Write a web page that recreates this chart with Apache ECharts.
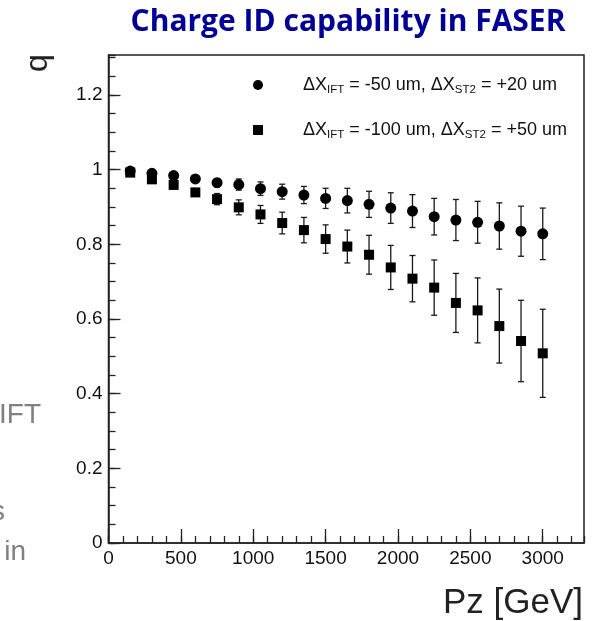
<!DOCTYPE html>
<html>
<head>
<meta charset="utf-8">
<script src="https://cdn.jsdelivr.net/npm/echarts@6/dist/echarts.min.js"></script>
<style>
html,body{margin:0;padding:0;background:#fff;}
#chart{width:594px;height:621px;}
</style>
</head>
<body>
<div id="chart"></div>
<script>
// ---- data ----
const pz = [150,300,450,600,750,900,1050,1200,1350,1500,1650,1800,1950,2100,2250,2400,2550,2700,2850,3000];
const qSet1 = [0.996,0.990,0.984,0.975,0.965,0.960,0.949,0.941,0.932,0.923,0.917,0.907,0.897,0.889,0.874,0.865,0.859,0.849,0.835,0.828];
const errSet1 = [0.003,0.005,0.007,0.009,0.011,0.015,0.018,0.020,0.023,0.027,0.033,0.035,0.041,0.044,0.049,0.055,0.056,0.062,0.067,0.069];
const qSet2 = [0.992,0.974,0.959,0.939,0.921,0.899,0.880,0.857,0.838,0.814,0.794,0.772,0.738,0.708,0.684,0.643,0.623,0.581,0.541,0.508];
const errSet2 = [0.003,0.005,0.006,0.008,0.015,0.020,0.024,0.029,0.034,0.038,0.044,0.052,0.059,0.062,0.074,0.079,0.087,0.099,0.109,0.118];
const seriesNames = ['set1','set2'];
const legendLabels = [
  '{gap|}{n|ΔX}{s|IFT}{n| = -50 um, ΔX}{s|ST2}{n| = +20 um}',
  '{gap|}{n|ΔX}{s|IFT}{n| = -100 um, ΔX}{s|ST2}{n| = +50 um}'
];
const titleText = 'Charge ID capability in FASER';
const xTitle = 'Pz [GeV]';
const yTitle = 'q';

const X_MAX = 3285, Y_MAX = 1.307;

function toPts(q, e){ return pz.map((x,i)=>[x, q[i], e[i]]); }

function errRender(params, api){
  const x = api.value(0), y = api.value(1), e = api.value(2);
  const top = api.coord([x, y + e]);
  const bot = api.coord([x, y - e]);
  const cap = 3;
  const st = {stroke:'#1a1a1a', lineWidth:1.3};
  return {type:'group', children:[
    {type:'line', shape:{x1:top[0],y1:top[1],x2:bot[0],y2:bot[1]}, style:st},
    {type:'line', shape:{x1:top[0]-cap,y1:top[1],x2:top[0]+cap,y2:top[1]}, style:st},
    {type:'line', shape:{x1:bot[0]-cap,y1:bot[1],x2:bot[0]+cap,y2:bot[1]}, style:st}
  ]};
}

const chart = echarts.init(document.getElementById('chart'), null, {renderer:'canvas'});
const axisFont = {fontFamily:'Liberation Sans', fontSize:19, color:'#111'};
const lineStyle = {color:'#222', width:1.5};

chart.setOption({
  animation:false,
  backgroundColor:'#fff',
  grid:{left:108.5, right:10, top:55, bottom:78, show:true, borderColor:'#222', borderWidth:1.5, containLabel:false},
  xAxis:[
    {type:'value', min:0, max:X_MAX, interval:500,
     axisLine:{show:true, onZero:false, lineStyle:lineStyle},
     axisTick:{show:true, inside:true, length:14, lineStyle:{color:'#222', width:1.3}},
     axisLabel:Object.assign({margin:6, showMaxLabel:false, formatter:v=>String(v)}, axisFont),
     splitLine:{show:false}},
    {type:'value', min:0, max:X_MAX, interval:100, position:'bottom',
     axisLine:{show:false, onZero:false},
     axisTick:{show:true, inside:true, length:7, lineStyle:{color:'#222', width:1.3}},
     axisLabel:{show:false}, splitLine:{show:false}}
  ],
  yAxis:[
    {type:'value', min:0, max:Y_MAX, interval:0.2,
     axisLine:{show:true, onZero:false, lineStyle:lineStyle},
     axisTick:{show:true, inside:true, length:12, lineStyle:{color:'#222', width:1.3}},
     axisLabel:Object.assign({margin:6, showMaxLabel:false, formatter:v=>String(+v.toFixed(1))}, axisFont),
     splitLine:{show:false}},
    {type:'value', min:0, max:Y_MAX, interval:0.05, position:'left',
     axisLine:{show:false, onZero:false},
     axisTick:{show:true, inside:true, length:7, lineStyle:{color:'#222', width:1.3}},
     axisLabel:{show:false}, splitLine:{show:false}}
  ],
  legend:{
    orient:'vertical', left:253, top:74, padding:0, itemGap:23, itemWidth:10, itemHeight:10,
    data:[{name:seriesNames[0], icon:'circle'},{name:seriesNames[1], icon:'rect'}],
    formatter:n=>legendLabels[seriesNames.indexOf(n)],
    itemStyle:{opacity:1},
    textStyle:{color:'#111', fontFamily:'Liberation Sans',
      rich:{
        gap:{width:35},
        n:{fontSize:18, fontFamily:'Liberation Sans', color:'#111', lineHeight:21},
        s:{fontSize:11.5, fontFamily:'Liberation Sans', color:'#111', lineHeight:21, padding:[10,0,0,0]}
      }}
  },
  series:[
    {type:'custom', name:'err1', renderItem:errRender, data:toPts(qSet1, errSet1), encode:{x:0,y:1}, z:2, silent:true},
    {type:'custom', name:'err2', renderItem:errRender, data:toPts(qSet2, errSet2), encode:{x:0,y:1}, z:2, silent:true},
    {type:'scatter', name:seriesNames[0], symbol:'circle', symbolSize:11, itemStyle:{color:'#000', opacity:1}, data:pz.map((x,i)=>[x,qSet1[i]]), z:3},
    {type:'scatter', name:seriesNames[1], symbol:'rect', symbolSize:10, itemStyle:{color:'#000', opacity:1}, data:pz.map((x,i)=>[x,qSet2[i]]), z:3}
  ],
  graphic:[
    {type:'text', x:348, y:22, style:{text:titleText, fill:'#000096', font:'bold 30px "Open Sans"', textAlign:'center', textVerticalAlign:'middle'}},
    {type:'text', x:583, y:603, style:{text:xTitle, fill:'#222', font:'35px "Liberation Sans"', textAlign:'right', textVerticalAlign:'middle'}},
    {type:'text', x:38, y:63, rotation:Math.PI/2, style:{text:yTitle, fill:'#222', font:'32px "Liberation Sans"', textAlign:'center', textVerticalAlign:'middle'}},
    {type:'text', x:41, y:415, style:{text:'IFT', fill:'#808080', font:'28px "Liberation Sans"', textAlign:'right', textVerticalAlign:'middle'}},
    {type:'text', x:5, y:512, style:{text:'s', fill:'#808080', font:'28px "Liberation Sans"', textAlign:'right', textVerticalAlign:'middle'}},
    {type:'text', x:26, y:552, style:{text:'in', fill:'#808080', font:'28px "Liberation Sans"', textAlign:'right', textVerticalAlign:'middle'}}
  ]
});
</script>
</body>
</html>
